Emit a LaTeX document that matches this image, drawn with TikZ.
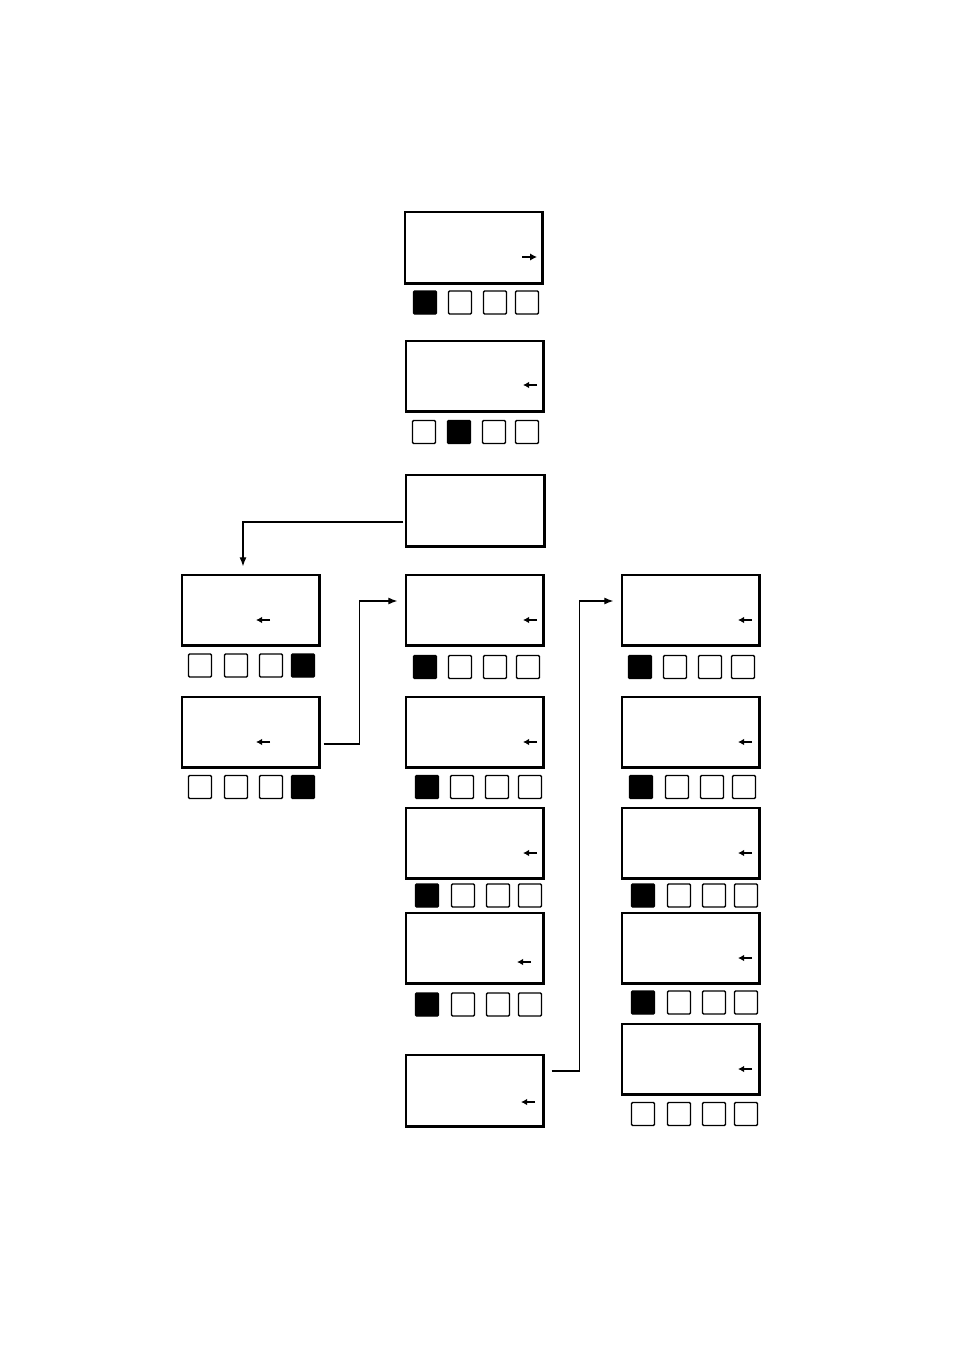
\documentclass[tikz,border=0pt]{standalone}
\usetikzlibrary{arrows.meta}
\tikzset{
  screen/.style={draw, line width=1.3pt, minimum width=137pt, minimum height=70pt, inner sep=0pt},
  btn/.style={draw, line width=1.4pt, minimum size=23pt, inner sep=0pt, rounded corners=1.2pt},
  conn/.style={line width=1.2pt, -{Latex[length=9pt,width=7pt]}},
  tick/.style={line width=1.3pt, -{Latex[length=6pt,width=6.5pt]}},
  shade/.style={line width=2.4pt},
}
\newcommand\brow[3]{% prefix, y, list x/colour
  \foreach \xx/\cc [count=\i] in {#3} \node[btn, fill=\cc] (#1\i) at (\xx,#2) {};}
\begin{document}
\begin{tikzpicture}[x=1pt,y=-1pt]
\useasboundingbox[fill=white] (0,0) rectangle (954,1351);
% screens
\node[screen, minimum height=71pt] (s1) at (473.5,247.5) {};
\node[screen] (s2) at (474.5,376) {};
\node[screen, minimum width=138pt, minimum height=71pt] (s3) at (475,510.5) {};
\node[screen] (s4) at (250.5,610) {};
\node[screen] (s5) at (250.5,732) {};
\node[screen] (s6) at (474.5,610) {};
\node[screen] (s7) at (474.5,732) {};
\node[screen] (s8) at (474.5,843) {};
\node[screen] (s9) at (474.5,948) {};
\node[screen, minimum height=71pt] (s10) at (474.5,1090.5) {};
\node[screen] (s11) at (690.5,610) {};
\node[screen] (s12) at (690.5,732) {};
\node[screen] (s13) at (690.5,843) {};
\node[screen] (s14) at (690.5,948) {};
\node[screen] (s15) at (690.5,1059) {};
\foreach \n in {s1,s2,s3,s4,s5,s6,s7,s8,s9,s10,s11,s12,s13,s14,s15}
  \draw[shade] (\n.north east) -- (\n.south east) -- (\n.south west);
% small arrows inside the screens
\draw[tick, line width=1.6pt, -{Latex[length=7pt,width=7.5pt]}] (522,257) -- (537,257);
\draw[tick] (537,385) -- (523,385);
\draw[tick] (270,620) -- (256,620);
\draw[tick] (270,742) -- (256,742);
\draw[tick] (537,620) -- (523,620);
\draw[tick] (537,742) -- (523,742);
\draw[tick] (537,853) -- (523,853);
\draw[tick] (531,962) -- (517,962);
\draw[tick] (535,1102) -- (521,1102);
\draw[tick] (752,620) -- (738,620);
\draw[tick] (752,742) -- (738,742);
\draw[tick] (752,853) -- (738,853);
\draw[tick] (752,958) -- (738,958);
\draw[tick] (752,1069) -- (738,1069);
% button rows
\brow{ba}{302.5}{425/black,460/white,495/white,527/white}
\brow{bb}{432}{424/white,459/black,494/white,527/white}
\brow{bd}{665.5}{200/white,236/white,271/white,303/black}
\brow{be}{787}{200/white,236/white,271/white,303/black}
\brow{bf}{667}{425/black,460/white,495/white,528/white}
\brow{bg}{787}{427/black,462/white,497/white,530/white}
\brow{bh}{895.5}{427/black,463/white,498/white,530/white}
\brow{bi}{1004.5}{427/black,463/white,498/white,530/white}
\brow{bk}{667}{640/black,675/white,710/white,743/white}
\brow{bl}{787}{641/black,677/white,712/white,744/white}
\brow{bm}{895.5}{643/black,679/white,714/white,746/white}
\brow{bn}{1002.5}{643/black,679/white,714/white,746/white}
\brow{bo}{1114}{643/white,679/white,714/white,746/white}
% connectors
\coordinate (t4) at ([xshift=-7.5pt,yshift=8pt]s4.north);
\coordinate (t6) at ([xshift=-8pt,yshift=9pt]s6.west);
\coordinate (t11) at ([xshift=-8pt,yshift=9pt]s11.west);
\draw[conn] ([xshift=-2pt,yshift=-11.5pt]s3.west) -| (t4);
\draw[conn] ([xshift=4pt,yshift=-12pt]s5.east) -- ++(36,0) |- (t6);
\draw[conn] ([xshift=8pt,yshift=19.5pt]s10.east) -- ++(28,0) |- (t11);
\end{tikzpicture}
\end{document}
